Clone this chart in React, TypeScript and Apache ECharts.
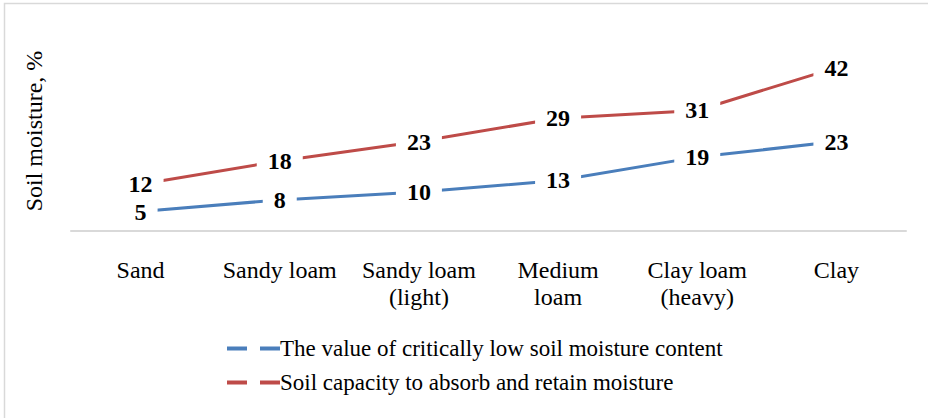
import React, { useEffect, useRef } from "react";
import * as echarts from "echarts";

const categories = [
  "Sand",
  "Sandy loam",
  "Sandy loam\n(light)",
  "Medium\nloam",
  "Clay loam\n(heavy)",
  "Clay",
];
const seriesNames = [
  "The value of critically low soil moisture content",
  "Soil capacity to absorb and retain moisture",
];
const criticalLow = [5, 8, 10, 13, 19, 23];
const capacity = [12, 18, 23, 29, 31, 42];
const colors = ["#4a7ebb", "#be4b48"];
const yAxisTitle = "Soil moisture, %";

const FONT = "Liberation Serif, serif";

export default function App() {
  const ref = useRef<HTMLDivElement>(null);
  useEffect(() => {
    if (!ref.current) return;
    const chart = echarts.init(ref.current, undefined, { renderer: "svg" });
    const label = {
      show: true,
      position: "inside",
      fontFamily: FONT,
      fontSize: 24,
      fontWeight: "bold",
      color: "#000",
      backgroundColor: "#fff",
      padding: [6, 11],
    };
    const mk = (i: number, data: number[]) => ({
      name: seriesNames[i],
      type: "line",
      data,
      symbol: "circle",
      symbolSize: 0.01,
      showSymbol: true,
      itemStyle: { color: colors[i] },
      color: colors[i],
      lineStyle: { width: 3, color: colors[i] },
      label,
      labelLayout: { hideOverlap: false },
    });
    chart.setOption({
      animation: false,
      backgroundColor: "#fff",
      textStyle: { fontFamily: FONT },
      grid: { left: 71, right: 22, top: 56, bottom: 187 },
      xAxis: {
        type: "category",
        data: categories,
        axisLine: { lineStyle: { color: "#d9d9d9", width: 2 } },
        axisTick: { show: false },
        axisLabel: {
          interval: 0,
          hideOverlap: false,
          fontFamily: FONT,
          fontSize: 24,
          color: "#000",
          margin: 25,
          lineHeight: 27,
        },
      },
      yAxis: {
        type: "value",
        min: 0,
        max: 45,
        show: false,
        splitLine: { show: false },
      },
      legend: {
        orient: "vertical",
        left: 222,
        top: 332,
        itemGap: 11,
        itemWidth: 53,
        itemHeight: 4,
        icon: "path://M0,0H20V4H0Z M33,0H53V4H33Z",
        textStyle: { fontFamily: FONT, fontSize: 23, color: "#000", padding: [0, 0, 0, -5] },
        data: seriesNames,
      },
      graphic: [
        {
          type: "rect",
          shape: { x: 4.5, y: 3.5, width: 1000, height: 1000 },
          style: { fill: "none", stroke: "#d9d9d9", lineWidth: 1.5 },
          silent: true,
          z: -1,
        },
        {
          type: "text",
          x: 34,
          y: 131,
          rotation: Math.PI / 2,
          style: {
            text: yAxisTitle,
            fontFamily: FONT,
            fontSize: 24,
            fill: "#000",
            align: "center",
            verticalAlign: "middle",
          },
        },
      ],
      series: [mk(0, criticalLow), mk(1, capacity)],
    });
    return () => chart.dispose();
  }, []);
  return (
    <div
      ref={ref}
      style={{ position: "fixed", left: 0, top: 0, width: 928, height: 418 }}
    />
  );
}
